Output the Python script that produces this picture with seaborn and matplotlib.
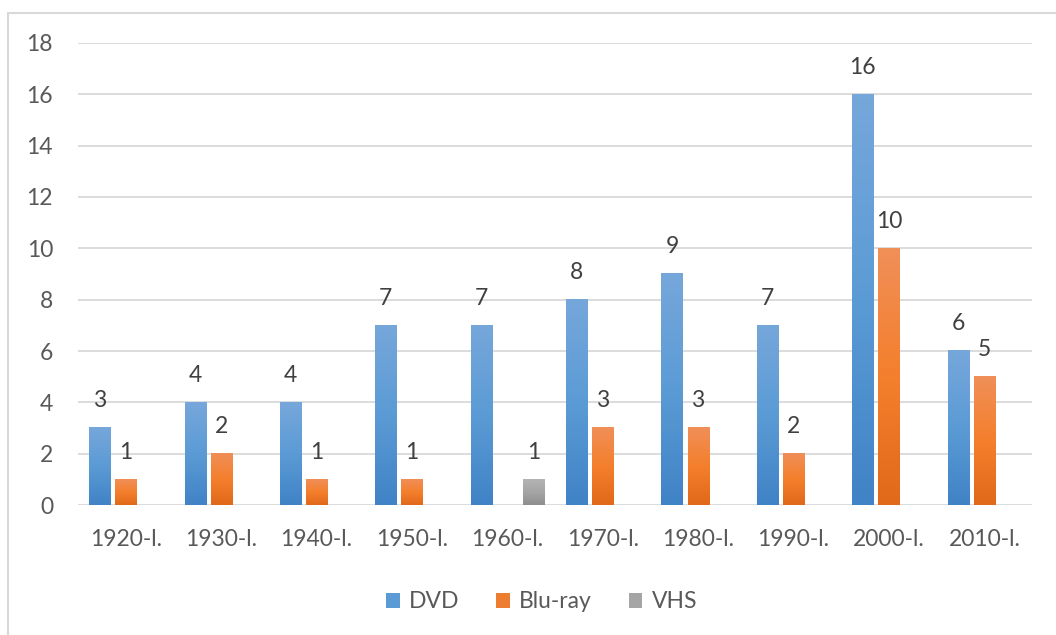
import numpy as np
import pandas as pd
import matplotlib
matplotlib.use("Agg")
import matplotlib.pyplot as plt
from matplotlib.colors import LinearSegmentedColormap
from matplotlib.patches import Rectangle
import seaborn as sns

# values
decades = ["1920-l.", "1930-l.", "1940-l.", "1950-l.", "1960-l.",
           "1970-l.", "1980-l.", "1990-l.", "2000-l.", "2010-l."]
dvd = [3, 4, 4, 7, 7, 8, 9, 7, 16, 6]
bluray = [1, 2, 1, 1, np.nan, 3, 3, 2, 10, 5]
vhs = [np.nan, np.nan, np.nan, np.nan, 1, np.nan, np.nan, np.nan, np.nan, np.nan]
series = ["DVD", "Blu-ray", "VHS"]

df = pd.DataFrame({"Decade": decades * 3,
                   "Type": np.repeat(series, len(decades)),
                   "Count": dvd + bluray + vhs})

sns.set_theme(style="white")
plt.rcParams["font.family"] = ["Lato", "DejaVu Sans"]

base = {"DVD": "#5b9bd5", "Blu-ray": "#ed7d31", "VHS": "#a5a5a5"}
# top -> middle -> bottom gradient stops, excel-style
grad = {"DVD": ["#76a7db", "#5b9bd5", "#4083c6"],
        "Blu-ray": ["#f08f58", "#f47f2c", "#e0691a"],
        "VHS": ["#b4b4b4", "#a5a5a5", "#8e8e8e"]}

fig = plt.figure(figsize=(10.56, 6.35), dpi=100)
ax = fig.add_axes([0.0739, 0.2047, 0.9034, 0.7276])

sns.barplot(data=df, x="Decade", y="Count", hue="Type", order=decades,
            hue_order=series, palette=base, width=0.82, gap=0.19,
            errorbar=None, legend=False, ax=ax, zorder=2)

ax.set_ylim(0, 18)
xlim = ax.get_xlim()

# gradient fill for each bar
for cont, name in zip(ax.containers, series):
    cmap = LinearSegmentedColormap.from_list(name, grad[name][::-1])
    for bar in cont:
        h = bar.get_height()
        if not np.isfinite(h) or h <= 0:
            continue
        x0 = bar.get_x()
        w = bar.get_width()
        ax.imshow(np.linspace(0, 1, 100).reshape(-1, 1), cmap=cmap,
                  extent=(x0, x0 + w, 0, h), origin="lower",
                  aspect="auto", interpolation="bilinear", zorder=3)
        bar.set_visible(False)
    labels = [f"{b.get_height():g}" if np.isfinite(b.get_height()) and b.get_height() > 0 else ""
              for b in cont]
    ax.bar_label(cont, labels=labels, padding=12, fontsize=16.5, color="#404040")

ax.set_xlim(xlim)
ax.set_yticks(range(0, 19, 2))
ax.yaxis.grid(True, color="#d9d9d9", linewidth=1.3, zorder=0)
ax.set_axisbelow(True)
for s in ax.spines.values():
    s.set_visible(False)
ax.tick_params(axis="both", length=0, labelsize=16.5, labelcolor="#595959")
ax.tick_params(axis="y", pad=18)
ax.tick_params(axis="x", pad=17)
ax.set_xlabel("")
ax.set_ylabel("")

handles = [Rectangle((0, 0), 1, 1, facecolor=base[s], edgecolor="none") for s in series]
fig.legend(handles, series, loc="center", bbox_to_anchor=(0.513, 0.052), ncol=3,
           frameon=False, fontsize=16.5, handlelength=0.6, handleheight=0.6,
           handletextpad=0.4, columnspacing=1.6, labelcolor="#595959")

# chart frame (cropped at right and bottom in the reference)
fig.patches.append(Rectangle((8 / 1056, -0.1), 1.2, 1 - 13 / 635 + 0.1,
                             transform=fig.transFigure, fill=False,
                             edgecolor="#d9d9d9", linewidth=1.5))

fig.savefig("out.png", dpi=100)
